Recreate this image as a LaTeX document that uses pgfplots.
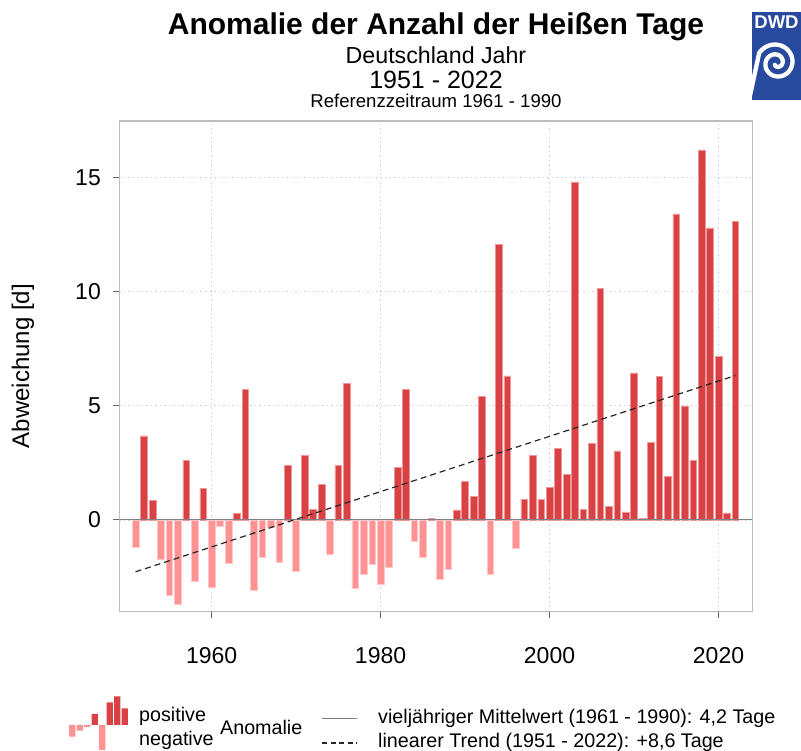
\documentclass[border=0pt]{standalone}
\usepackage{fontspec}
\setmainfont{Liberation Sans}
\usepackage{pgfplots}
\usepackage{pgfplotstable}
\pgfplotsset{compat=1.18}
\newcommand\fs[1]{\fontsize{#1}{#1}\selectfont}
\definecolor{posred}{RGB}{216,66,69}
\definecolor{posedge}{RGB}{240,150,150}
\definecolor{negpink}{RGB}{255,146,146}
\definecolor{negedge}{RGB}{255,200,200}
\definecolor{axgray}{RGB}{190,190,190}
\definecolor{tickgray}{RGB}{100,100,100}
\definecolor{gridgray}{RGB}{210,210,210}
\definecolor{dwdblue}{RGB}{40,74,158}
\pgfplotstableread{
year val
1952 3.69
1953 0.85
1957 2.61
1959 1.39
1963 0.28
1964 5.71
1969 2.39
1971 2.83
1972 0.47
1973 1.55
1975 2.39
1976 5.98
1982 2.30
1983 5.71
1986 0.07
1989 0.44
1990 1.69
1991 1.04
1992 5.41
1994 12.07
1995 6.31
1997 0.91
1998 2.83
1999 0.91
2000 1.42
2001 3.13
2002 2.00
2003 14.81
2004 0.48
2005 3.37
2006 10.16
2007 0.59
2008 3.03
2009 0.36
2010 6.44
2011 0.06
2012 3.41
2013 6.28
2014 1.92
2015 13.41
2016 5.00
2017 2.60
2018 16.21
2019 12.80
2020 7.17
2021 0.31
2022 13.09
}\pos
\pgfplotstableread{
year val
1951 -1.21
1954 -1.72
1955 -3.31
1956 -3.67
1958 -2.67
1960 -2.93
1961 -0.26
1962 -1.88
1965 -3.06
1966 -1.62
1967 -0.30
1968 -1.85
1970 -2.23
1974 -1.49
1977 -3.00
1978 -2.36
1979 -1.95
1980 -2.80
1981 -2.05
1984 -0.93
1985 -1.62
1987 -2.59
1988 -2.16
1993 -2.36
1996 -1.24
}\neg
\begin{document}
\begin{tikzpicture}[x=1pt,y=1pt]
\useasboundingbox (0,0) rectangle (801,751);
\clip (0,0) rectangle (801,751);
\begin{axis}[
  at={(119.5pt,139.7pt)}, anchor=south west,
  scale only axis, width=632.8pt, height=490.3pt,
  xmin=1949.1, xmax=2024.0, ymin=-4, ymax=17.48,
  axis line style={draw=axgray, line width=1.3pt},
  xtick={1960,1980,2000,2020}, ytick={0,5,10,15},
  tick align=outside, tick pos=left,
  major tick length=6.5pt,
  tick style={draw=tickgray, line width=1pt},
  /pgf/number format/1000 sep={},
  /pgf/number format/assume math mode=true,
  xticklabel style={font=\fs{23}, inner sep=0pt},
  yticklabel style={font=\fs{23}, inner sep=0pt},
  xticklabel shift=29pt,
  yticklabel shift=12pt,
  grid=major,
  grid style={draw=gridgray, line width=0.9pt, dash pattern=on 1.5pt off 3pt},
  ylabel={Abweichung [d]},
  ylabel style={at={(rel axis cs:-0.1525,0.5)}, anchor=center, font=\fs{24}},
  clip=true,
]
\addplot[ybar, bar width=0.79, bar shift=0pt, fill=posred, draw=posedge, line width=0.5pt] table[x=year,y=val] {\pos};
\addplot[ybar, bar width=0.79, bar shift=0pt, fill=negpink, draw=negedge, line width=0.5pt] table[x=year,y=val] {\neg};
\addplot[draw=gray, line width=1pt] coordinates {(1949.1,0) (2024.0,0)};
\addplot[draw=black!85, line width=1.2pt, dash pattern=on 6pt off 4pt] coordinates {(1951,-2.27) (2022,6.33)};
\end{axis}
% legend icon
\begin{axis}[at={(68.5pt,-5pt)}, anchor=south west, scale only axis,
  width=60pt, height=62pt, xmin=0.5, xmax=8.5, ymin=-31, ymax=31,
  hide axis, clip=false]
\addplot[ybar, bar width=0.85, bar shift=0pt, fill=negpink, draw=none] coordinates {(1,-11.7) (2,-5.7) (3,-2) (5,-25)};
\addplot[ybar, bar width=0.85, bar shift=0pt, fill=posred, draw=none] coordinates {(4,11) (6,22.7) (7,28.5) (8,16.7)};
\end{axis}
% titles
\node[anchor=base, font=\fs{30}\bfseries] at (436,716) {Anomalie der Anzahl der Heißen Tage};
\node[anchor=base, font=\fs{23.2}] at (436,687) {Deutschland Jahr};
\node[anchor=base, font=\fs{25}] at (436,662) {1951 - 2022};
\node[anchor=base, font=\fs{18.6}] at (436,643) {Referenzzeitraum 1961 - 1990};
% legend texts
\node[anchor=base west, font=\fs{19.7}, inner sep=0pt] at (139,29) {positive};
\node[anchor=base west, font=\fs{19.7}, inner sep=0pt] at (139,5.5) {negative};
\node[anchor=base west, font=\fs{19.7}, inner sep=0pt] at (220,16.5) {Anomalie};
\draw[gray, line width=1pt] (322,32) -- (357,32);
\draw[black!85, line width=1.2pt, dash pattern=on 5pt off 3.5pt] (322,8) -- (357,8);
\node[anchor=base west, font=\fs{19.7}, inner sep=0pt] at (378,27) {vieljähriger Mittelwert (1961 - 1990): 4,2 Tage};
\node[anchor=base west, font=\fs{19.7}, inner sep=0pt] at (378,3) {linearer Trend (1951 - 2022): +8,6 Tage};
% DWD logo
\fill[dwdblue] (752,651) rectangle (801,738.5);
\node[anchor=base, font=\fs{18.5}\bfseries, text=white, inner sep=0pt] at (776.5,722) {DWD};
\begin{scope}
\clip (752,651) rectangle (801,738.5);
\draw[white, line width=4.3pt, line cap=round] plot[smooth, domain=0:640, samples=90, variable=\t]
  ({776.5 + (2.5+\t/640*17.5)*cos(\t+230)}, {688 + (2.5+\t/640*17.5)*sin(\t+230)}) -- (748,646);
\end{scope}
\end{tikzpicture}
\end{document}
